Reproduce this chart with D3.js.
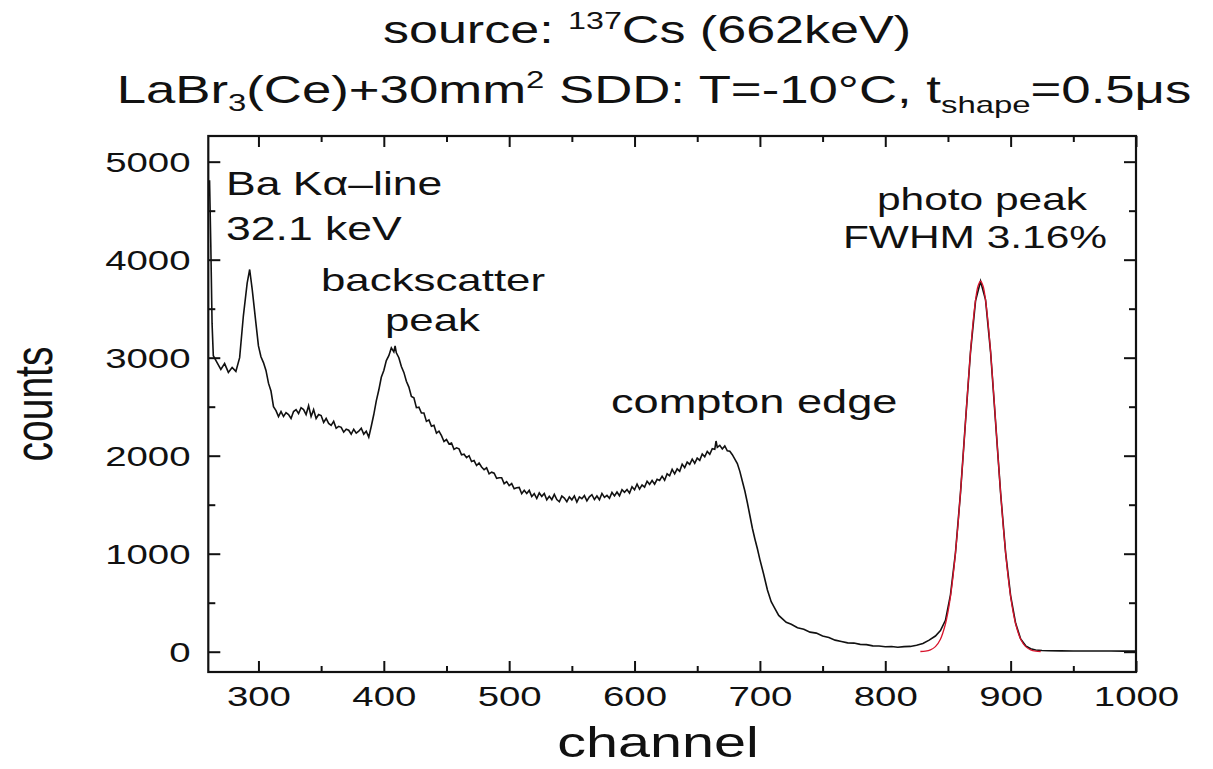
<!DOCTYPE html>
<html><head><meta charset="utf-8">
<script src="https://cdn.jsdelivr.net/npm/d3@7"></script>
<style>
body{margin:0;background:#fff}
svg{display:block}
text{font-family:"Liberation Sans",Arial,Helvetica,sans-serif;fill:#111}
</style>
</head><body>
<svg id="chart" width="1213" height="769"></svg>
<script>
// ---------- data ----------
const spectrumChannels = [
  260,261,262,263,264,267,270,273,276,279,282,285,288,291,293,295,298,300,
  302,304,306,308,310,312,314,316,318,320,
  322,324,326,328,330,332,334,336,338,340,
  342,344,346,348,350,352,354,356,358,360,
  362,364,366,368,370,372,374,376,378,380,
  382,384,386,388,390,392,394,396,398,400,
  402,404,406,408,409,410,412,414,416,418,
  420,422,424,426,428,430,432,434,436,438,
  440,442,444,446,448,450,452,454,456,458,
  460,462,464,466,468,470,472,474,476,478,
  480,482,484,486,488,490,492,494,496,498,
  500,502,504,506,508,510,512,514,516,518,
  520,522,524,526,528,530,532,534,536,538,
  540,542,544,546,548,550,552,554,556,558,
  560,562,564,566,568,570,572,574,576,578,
  580,582,584,586,588,590,592,594,596,598,
  600,602,604,606,608,610,612,614,616,618,
  620,622,624,626,628,630,632,634,636,638,
  640,642,644,646,648,650,652,654,656,658,
  660,662,664,665,666,668,670,672,674,676,
  678,680,682,684,686,688,690,692,694,696,
  698,700,
  703,706,709,712,715,718,721,725,730,735,
  740,745,750,755,760,765,770,775,780,785,
  790,795,800,805,810,815,820,825,830,835,
  840,844,848,852,856,860,864,868,872,876,
  880,884,888,892,896,900,904,908,912,916,
  920,925,930,940,950,960,970,980,990,1000];
const spectrumCounts = [
  4650,4810,4150,3350,3020,2950,2880,2940,2850,2900,2860,3000,3430,3760,3900,3700,3350,3120,
  3010,2950,2870,2740,2660,2500,2460,2400,2450,2400,
  2440,2420,2380,2450,2470,2430,2490,2470,2420,2510,
  2400,2470,2380,2420,2410,2340,2380,2330,2310,2350,
  2280,2300,2290,2240,2270,2260,2220,2270,2230,2250,
  2280,2220,2250,2190,2300,2420,2560,2670,2800,2870,
  2970,3020,3100,3060,3120,3050,3000,2910,2850,2760,
  2700,2605,2590,2490,2495,2435,2435,2350,2365,2300,
  2310,2230,2250,2205,2145,2165,2120,2130,2065,2080,
  2070,2010,2015,1980,2000,1940,1950,1900,1925,1885,
  1857,1876,1815,1832,1821,1770,1775,1775,1715,1735,
  1695,1716,1662,1673,1677,1612,1647,1614,1646,1583,
  1612,1563,1620,1585,1615,1550,1586,1552,1605,1552,
  1530,1588,1567,1531,1580,1550,1590,1527,1579,1561,
  1593,1539,1580,1602,1553,1589,1551,1615,1575,1595,
  1565,1625,1590,1630,1591,1654,1627,1655,1618,1683,
  1653,1711,1659,1702,1680,1740,1708,1747,1710,1759,
  1747,1791,1750,1815,1795,1860,1815,1865,1840,1914,
  1878,1935,1912,1965,1923,1975,1953,2018,1988,2043,
  2015,2072,2065,2150,2085,2105,2068,2100,2050,2045,
  2010,1965,1920,1840,1740,1640,1520,1390,1260,1150,
  1050,940,
  790,630,510,440,370,335,300,280,245,230,
  200,190,160,145,118,105,90,88,75,72,
  60,58,50,53,46,52,54,66,84,118,
  160,215,320,580,1010,1620,2350,3060,3580,3780,
  3590,3060,2340,1620,1010,570,290,130,60,30,
  18,12,10,9,8,8,7,7,6,6];

const fitChannels = [828,832,836,840,844,848,850,852,854,856,858,860,862,864,866,868,870,872,874,876,878,880,882,884,886,888,890,892,894,896,898,900,902,904,908,912,916,920,924];
const fitCounts   = [2,6,19,52,128,283,405,563,764,1008,1296,1622,1978,2349,2716,3060,3356,3585,3731,3780,3731,3585,3356,3060,2716,2349,1978,1622,1296,1008,764,563,405,283,128,52,19,6,2];

const xMajorTicks = [300,400,500,600,700,800,900,1000];
const xMinorTicks = [350,450,550,650,750,850,950];
const yMajorTicks = [0,1000,2000,3000,4000,5000];
const yMinorTicks = [500,1500,2500,3500,4500];

const titleLine1 = ["source: ", "137", "Cs (662keV)"];
const titleLine2 = ["LaBr", "3", "(Ce)+30mm", "2", " SDD: T=-10°C, t", "shape", "=0.5μs"];
const annotations = [
  {text:"Ba Kα–line",   x:226, y:195, size:32.5, anchor:"start"},
  {text:"32.1 keV",     x:226, y:240, size:32.5, anchor:"start"},
  {text:"backscatter",  x:321, y:291, size:32,   anchor:"start"},
  {text:"peak",         x:385, y:331, size:32,   anchor:"start"},
  {text:"compton edge", x:611, y:413, size:33,   anchor:"start"},
  {text:"photo peak",   x:982, y:210, size:31,   anchor:"middle"},
  {text:"FWHM 3.16%",   x:975, y:248, size:31,   anchor:"middle"}
];

// ---------- layout ----------
const SX = 1.37; // horizontal stretch of the original figure's lettering
const L = 208.3, R = 1136, T = 136, B = 672;
const svg = d3.select("#chart");

const x = d3.scaleLinear().domain([260, 1000]).range([L, R]);
const y = d3.scaleLinear().domain([-207, 5262]).range([B, T]);

svg.append("defs").append("clipPath").attr("id","plotclip")
  .append("rect").attr("x",L).attr("y",T).attr("width",R-L).attr("height",B-T);

// ---------- data lines ----------
const spec = spectrumChannels.map((c,i)=>[c, spectrumCounts[i]]);
const fit = fitChannels.map((c,i)=>[c, fitCounts[i]]);

svg.append("path").datum(spec).attr("clip-path","url(#plotclip)")
  .attr("d", d3.line().x(d=>x(d[0])).y(d=>y(d[1])))
  .attr("fill","none").attr("stroke","#111").attr("stroke-width",1.6)
  .attr("stroke-linejoin","miter");
svg.append("path").datum(fit).attr("clip-path","url(#plotclip)")
  .attr("d", d3.line().x(d=>x(d[0])).y(d=>y(d[1])).curve(d3.curveCatmullRom))
  .attr("fill","none").attr("stroke","#d8142c").attr("stroke-width",1.3);

// ---------- axes ----------
function styleAxis(g){
  g.selectAll(".domain").remove();
  g.selectAll("line").attr("stroke","#111").attr("stroke-width",2);
}
const fmt = d3.format("d");
// bottom
const gb = svg.append("g").attr("transform",`translate(0,${B})`)
  .call(d3.axisBottom(x).tickValues(xMajorTicks).tickSize(-11).tickPadding(0).tickFormat(fmt));
styleAxis(gb);
gb.selectAll("text").attr("font-size",28).attr("fill","#111").attr("y",34).attr("dy",0)
  .attr("transform",`scale(${SX},1)`).attr("font-family",'"Liberation Sans",Arial,sans-serif');
svg.append("g").attr("transform",`translate(0,${B})`)
  .call(d3.axisBottom(x).tickValues(xMinorTicks).tickSize(-6).tickFormat("")).call(styleAxis);
// top
svg.append("g").attr("transform",`translate(0,${T})`)
  .call(d3.axisTop(x).tickValues(xMajorTicks).tickSize(-11).tickFormat("")).call(styleAxis);
svg.append("g").attr("transform",`translate(0,${T})`)
  .call(d3.axisTop(x).tickValues(xMinorTicks).tickSize(-6).tickFormat("")).call(styleAxis);
// left
const gl = svg.append("g").attr("transform",`translate(${L},0)`)
  .call(d3.axisLeft(y).tickValues(yMajorTicks).tickSize(-12).tickPadding(0).tickFormat(fmt));
styleAxis(gl);
gl.selectAll("text").attr("font-size",28).attr("fill","#111").attr("x",-13).attr("dy","0.36em")
  .attr("transform",`scale(${SX},1)`).attr("font-family",'"Liberation Sans",Arial,sans-serif');
svg.append("g").attr("transform",`translate(${L},0)`)
  .call(d3.axisLeft(y).tickValues(yMinorTicks).tickSize(-7).tickFormat("")).call(styleAxis);
// right
svg.append("g").attr("transform",`translate(${R},0)`)
  .call(d3.axisRight(y).tickValues(yMajorTicks).tickSize(-12).tickFormat("")).call(styleAxis);
svg.append("g").attr("transform",`translate(${R},0)`)
  .call(d3.axisRight(y).tickValues(yMinorTicks).tickSize(-7).tickFormat("")).call(styleAxis);

// frame
svg.append("rect").attr("x",L).attr("y",T).attr("width",R-L).attr("height",B-T)
  .attr("fill","none").attr("stroke","#111").attr("stroke-width",2.2);

// ---------- text ----------
function stretchedText(xp, yp, size, anchor){
  return svg.append("text").attr("transform",`translate(${xp},${yp}) scale(${SX},1)`)
    .attr("font-size",size).attr("text-anchor",anchor);
}
// title line 1
{
  const t = stretchedText(647, 43, 38, "middle");
  t.append("tspan").text(titleLine1[0]);
  t.append("tspan").attr("font-size",23.5).attr("dy",-14).text(titleLine1[1]);
  t.append("tspan").attr("dy",14).text(titleLine1[2]);
}
// title line 2
{
  const t = stretchedText(654, 103, 38.5, "middle");
  t.append("tspan").text(titleLine2[0]);
  t.append("tspan").attr("font-size",24).attr("dy",8).text(titleLine2[1]);
  t.append("tspan").attr("dy",-8).text(titleLine2[2]);
  t.append("tspan").attr("font-size",24).attr("dy",-15).text(titleLine2[3]);
  t.append("tspan").attr("dy",15).text(titleLine2[4]);
  t.append("tspan").attr("font-size",24).attr("dy",10).text(titleLine2[5]);
  t.append("tspan").attr("dy",-10).text(titleLine2[6]);
}
// annotations
annotations.forEach(a=>{
  stretchedText(a.x, a.y, a.size, a.anchor).text(a.text);
});
// axis titles
stretchedText(658, 757, 42, "middle").text("channel");
svg.append("text").attr("transform",`translate(52,${(T+B)/2}) scale(${SX},1) rotate(-90)`)
  .attr("font-size",39).attr("text-anchor","middle").text("counts");
</script>
</body></html>
